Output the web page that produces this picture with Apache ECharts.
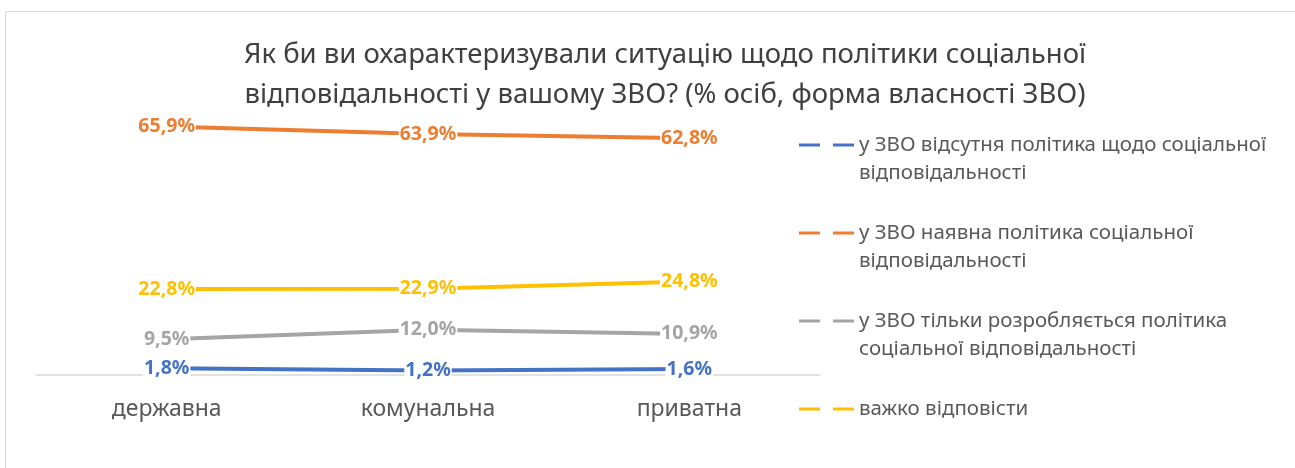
<!DOCTYPE html>
<html>
<head>
<meta charset="utf-8">
<script src="https://cdn.jsdelivr.net/npm/echarts@6/dist/echarts.min.js"></script>
<style>
html,body{margin:0;padding:0;background:#fff;}
#chart{width:1295px;height:468px;}
</style>
</head>
<body>
<div id="chart"></div>
<script>
const titleText = 'Як би ви охарактеризували ситуацію щодо політики соціальної\nвідповідальності у вашому ЗВО? (% осіб, форма власності ЗВО)';
const categories = ['державна', 'комунальна', 'приватна'];
const seriesNames = [
  'у ЗВО відсутня політика щодо соціальної відповідальності',
  'у ЗВО наявна політика соціальної відповідальності',
  'у ЗВО тільки розробляється політика соціальної відповідальності',
  'важко відповісти'
];
const legendLines = [
  ['у ЗВО відсутня політика щодо соціальної', 'відповідальності'],
  ['у ЗВО наявна політика соціальної', 'відповідальності'],
  ['у ЗВО тільки розробляється політика', 'соціальної відповідальності'],
  ['важко відповісти', ' ']
];
const absentValues = [1.8, 1.2, 1.6];
const presentValues = [65.9, 63.9, 62.8];
const developingValues = [9.5, 12.0, 10.9];
const hardValues = [22.8, 22.9, 24.8];
const colors = ['#4472C4', '#ED7D31', '#A5A5A5', '#FFC000'];
const values = [absentValues, presentValues, developingValues, hardValues];

const font = '"Noto Sans", "Open Sans", sans-serif';
const chart = echarts.init(document.getElementById('chart'), null, {renderer: 'canvas'});

const series = seriesNames.map((name, i) => ({
  name: name,
  type: 'line',
  data: values[i],
  symbol: 'circle',
  symbolSize: 0,
  showSymbol: true,
  lineStyle: {width: 4, color: colors[i]},
  itemStyle: {color: colors[i]},
  z: 2 + i,
  label: {
    show: true,
    position: 'inside',
    formatter: p => p.value.toFixed(1).replace('.', ',') + '%',
    color: colors[i],
    fontFamily: font,
    fontWeight: 'bold',
    fontSize: 19.5,
    backgroundColor: '#fff',
    padding: [0, 1]
  }
}));

chart.setOption({
  animation: false,
  backgroundColor: '#fff',
  textStyle: {fontFamily: font},
  graphic: [{
    type: 'rect',
    shape: {x: 5.5, y: 11.5, width: 1400, height: 600},
    style: {fill: 'none', stroke: '#d9d9d9', lineWidth: 1},
    silent: true,
    z: -10
  }],
  title: {
    text: titleText,
    left: 660,
    top: 30,
    textAlign: 'center',
    textStyle: {fontFamily: font, fontSize: 27.5, fontWeight: 'normal', color: '#404040', lineHeight: 40}
  },
  grid: {left: 36, right: 475, top: 111, bottom: 93, containLabel: false},
  xAxis: {
    type: 'category',
    data: categories,
    boundaryGap: true,
    axisLine: {lineStyle: {color: '#d9d9d9', width: 1.5}},
    axisTick: {show: false},
    axisLabel: {fontFamily: font, fontSize: 23, color: '#595959', margin: 23}
  },
  yAxis: {
    type: 'value',
    min: 0,
    max: 70,
    show: false,
    splitLine: {show: false}
  },
  legend: {
    orient: 'vertical',
    left: 794,
    top: 98,
    itemGap: 4,
    itemWidth: 55,
    itemHeight: 3,
    icon: 'path://M0,0H21V3H0Z M34,0H55V3H34Z',
    data: seriesNames,
    formatter: name => {
      const l = legendLines[seriesNames.indexOf(name)];
      return ' \n' + l[0] + '\n' + l[1];
    },
    textStyle: {fontFamily: font, fontSize: 20.5, color: '#595959', lineHeight: 28}
  },
  series: series
});
</script>
</body>
</html>
